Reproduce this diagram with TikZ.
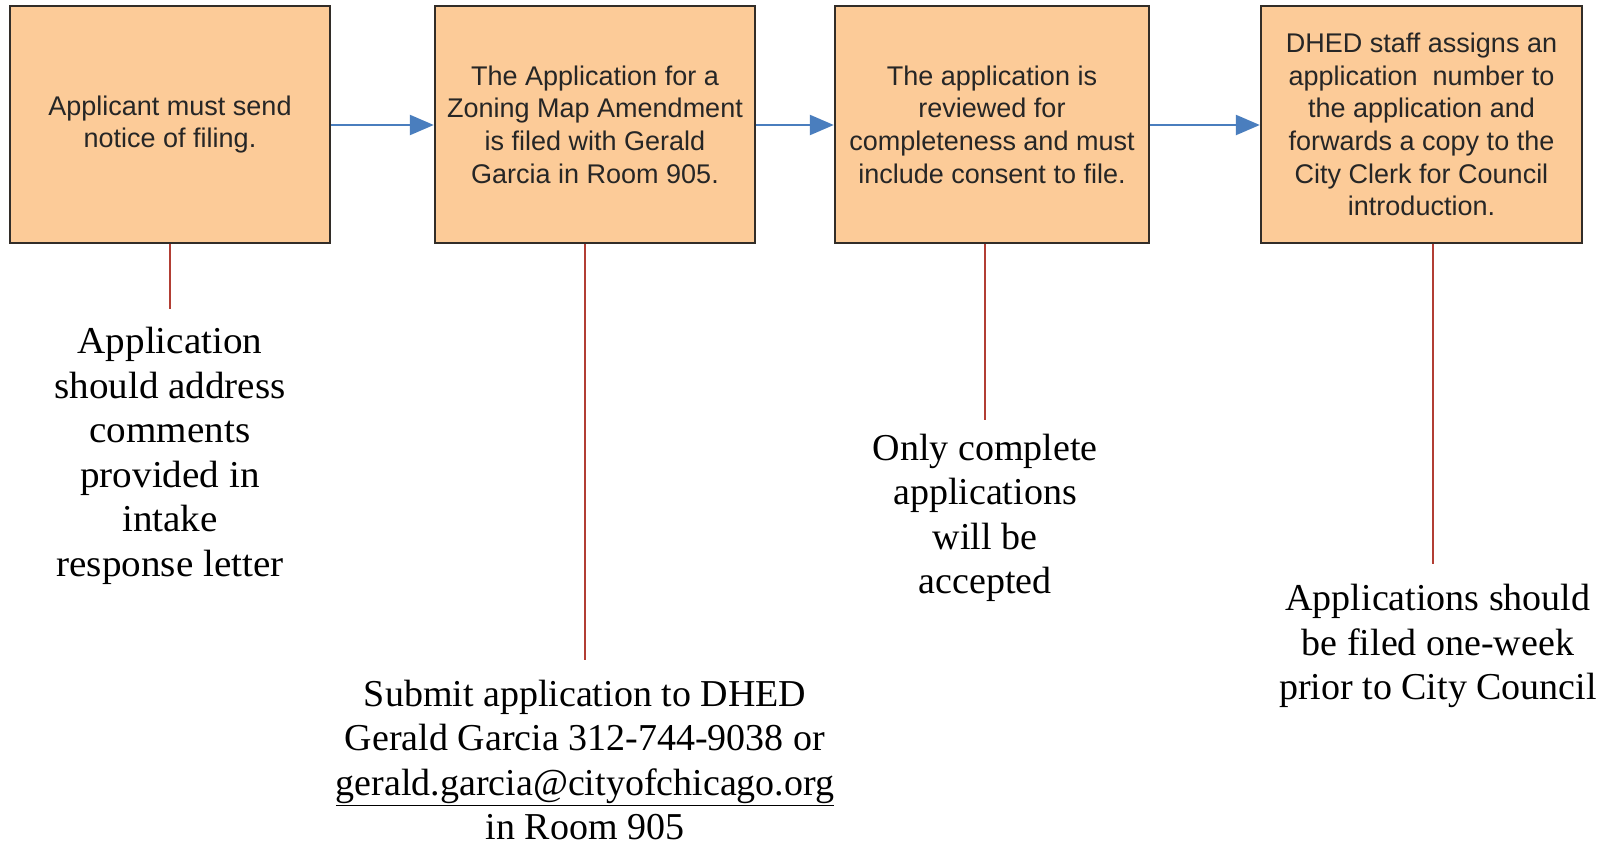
\documentclass[tikz,border=0pt]{standalone}
\usepackage{fontspec}
\setmainfont{Liberation Serif}
\newfontfamily\boxfont{Liberation Sans}
\usetikzlibrary{arrows.meta,calc}
\definecolor{boxfill}{RGB}{252,203,152}
\definecolor{boxline}{RGB}{50,45,40}
\definecolor{arrblue}{RGB}{74,126,190}
\definecolor{tickred}{RGB}{178,62,52}
\tikzset{
  stepbox/.style={draw=boxline, line width=2.4pt, fill=boxfill, minimum height=237pt, align=center, inner sep=0pt,
    font=\boxfont\fontsize{27}{32.6}\selectfont, text=black!85},
  flow/.style={draw=arrblue, line width=2.4pt, -{Triangle[length=24pt,width=20pt]}},
  tick/.style={draw=tickred, line width=1.4pt},
  note/.style={align=center, inner sep=0pt, font=\fontsize{38}{44.5}\selectfont}
}
\begin{document}
\begin{tikzpicture}[x=1pt,y=-1pt]
\useasboundingbox[fill=white] (0,0) rectangle (1602,843);
\node[stepbox, minimum width=320pt] (b1) at (170,124.5) {Applicant must send\\notice of filing.};
\node[stepbox, minimum width=320pt] (b2) at (595,124.5) {The Application for a\\Zoning Map Amendment\\is filed with Gerald\\Garcia in Room 905.};
\node[stepbox, minimum width=314pt] (b3) at (992,124.5) {The application is\\reviewed for\\completeness and must\\include consent to file.};
\node[stepbox, minimum width=321pt] (b4) at (1421.5,124.5) {DHED staff assigns an\\application\ \ number to\\the application and\\forwards a copy to the\\City Clerk for Council\\introduction.};
\draw[flow] (b1.east |- 0,125) -- (b2.west |- 0,125);
\draw[flow] (b2.east |- 0,125) -- (b3.west |- 0,125);
\draw[flow] (b3.east |- 0,125) -- (b4.west |- 0,125);
\coordinate (e1) at (170,309);
\coordinate (e2) at (585,660);
\coordinate (e3) at (985,420);
\coordinate (e4) at (1433,564);
\draw[tick] (b1.south -| e1) -- (e1);
\draw[tick] (b2.south -| e2) -- (e2);
\draw[tick] (b3.south -| e3) -- (e3);
\draw[tick] (b4.south -| e4) -- (e4);
\node[note, font=\addfontfeature{FakeStretch=1.03}\fontsize{38}{44.5}\selectfont] (n1) at (170,456) {Application\\should address\\comments\\provided in\\intake\\response letter};
\node[note] (n2) at (585,760) {Submit application to DHED\\Gerald Garcia 312-744-9038 or\\\underline{gerald.garcia@cityofchicago.org}\\in Room 905};
\node[note] (n3) at (985,518) {Only complete\\applications\\will be\\accepted};
\node[note] (n4) at (1438,646) {Applications should\\be filed one-week\\prior to City Council};
\end{tikzpicture}
\end{document}
